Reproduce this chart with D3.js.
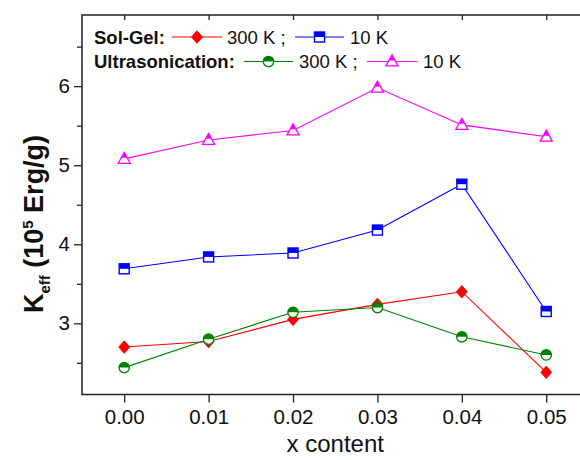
<!DOCTYPE html>
<html>
<head>
<meta charset="utf-8">
<script src="https://cdn.jsdelivr.net/npm/d3@7/dist/d3.min.js"></script>
<style>
  html, body { margin: 0; padding: 0; background: #fff; }
  svg { display: block; font-family: Arial, "Liberation Sans", sans-serif; }
</style>
</head>
<body>
<svg id="chart" width="580" height="460"></svg>
<script>
// x content of the samples
const xContent = [0.00, 0.01, 0.02, 0.03, 0.04, 0.05];
// K_eff (10^5 Erg/g)
const solGel300 = [2.70, 2.77, 3.05, 3.24, 3.40, 2.38];
const solGel10  = [3.69, 3.84, 3.89, 4.18, 4.76, 3.15];
const ultra300  = [2.44, 2.80, 3.14, 3.20, 2.83, 2.60];
const ultra10   = [5.08, 5.32, 5.44, 5.98, 5.51, 5.36];

const xTicks = [0.00, 0.01, 0.02, 0.03, 0.04, 0.05];
const yTicks = [3, 4, 5, 6];
const yMinor = [2.5, 3.5, 4.5, 5.5, 6.5];

const svg = d3.select("#chart");
const plotLeft = 82, plotRight = 580, plotTop = 15, plotBottom = 394.5;

const x = d3.scaleLinear().domain([-0.005, 0.054]).range([plotLeft, plotRight]);
const y = d3.scaleLinear().domain([2.1, 6.9]).range([plotBottom, plotTop]);

const axisColor = "#222";
const tickFont = "20.5px";

// bottom axis
const gx = svg.append("g").attr("transform", `translate(0,${plotBottom})`)
  .call(d3.axisBottom(x).tickValues(xTicks).tickFormat(d3.format(".2f")).tickSize(8).tickPadding(7));
// left axis
const gy = svg.append("g").attr("transform", `translate(${plotLeft},0)`)
  .call(d3.axisLeft(y).tickValues(yTicks).tickFormat(d3.format("d")).tickSize(8).tickPadding(4));
// left minor ticks
svg.append("g").attr("transform", `translate(${plotLeft},0)`)
  .call(d3.axisLeft(y).tickValues(yMinor).tickFormat("").tickSize(5))
  .call(g => g.select(".domain").remove());
// top mirrored ticks (inward)
svg.append("g").attr("transform", `translate(0,${plotTop})`)
  .call(d3.axisTop(x).tickValues(xTicks).tickFormat("").tickSize(-5))
  .call(g => g.select(".domain").remove());

[gx, gy].forEach(g => {
  g.select(".domain").remove();
  g.selectAll("text").style("font-size", tickFont).attr("fill", "#111");
});
svg.selectAll(".tick line").attr("stroke", axisColor).attr("stroke-width", 1.3);

// frame
svg.append("rect")
  .attr("x", plotLeft).attr("y", plotTop)
  .attr("width", plotRight + 2 - plotLeft).attr("height", plotBottom - plotTop)
  .attr("fill", "none").attr("stroke", axisColor).attr("stroke-width", 1.5);

// axis titles
svg.append("text")
  .attr("x", (x(0.0) + x(0.05)) / 2).attr("y", 452)
  .attr("text-anchor", "middle")
  .style("font-size", "24px").attr("fill", "#111")
  .text("x content");

const yl = svg.append("text")
  .attr("transform", "translate(43,224) rotate(-90)")
  .attr("text-anchor", "middle")
  .style("font-size", "27px").style("font-weight", "bold").attr("fill", "#111");
yl.append("tspan").text("K");
yl.append("tspan").attr("dy", 7).style("font-size", "15px").text("eff");
yl.append("tspan").attr("dy", -7).text(" (10");
yl.append("tspan").attr("dy", -10).style("font-size", "15px").text("5");
yl.append("tspan").attr("dy", 10).text(" Erg/g)");

// marker drawing
function marker(g, type, color, cx, cy) {
  if (type === "diamond") {
    g.append("path")
      .attr("d", `M${cx},${cy - 6.2}L${cx + 5.4},${cy}L${cx},${cy + 6.2}L${cx - 5.4},${cy}Z`)
      .attr("fill", color).attr("stroke", color).attr("stroke-width", 1);
  } else if (type === "square") {
    const h = 5;
    g.append("rect").attr("x", cx - h).attr("y", cy - h).attr("width", 2 * h).attr("height", 2 * h)
      .attr("fill", "#fff");
    g.append("rect").attr("x", cx - h).attr("y", cy - h).attr("width", 2 * h).attr("height", h)
      .attr("fill", color);
    g.append("rect").attr("x", cx - h).attr("y", cy - h).attr("width", 2 * h).attr("height", 2 * h)
      .attr("fill", "none").attr("stroke", color).attr("stroke-width", 1.4);
  } else if (type === "circle") {
    const r = 5.2;
    g.append("circle").attr("cx", cx).attr("cy", cy).attr("r", r).attr("fill", "#fff");
    g.append("path")
      .attr("d", `M${cx - r},${cy}A${r},${r} 0 0 1 ${cx + r},${cy}Z`)
      .attr("fill", color);
    g.append("circle").attr("cx", cx).attr("cy", cy).attr("r", r)
      .attr("fill", "none").attr("stroke", color).attr("stroke-width", 1.3);
  } else if (type === "triangle") {
    const w = 6, ht = 11;
    const ty = cy - ht * 0.6, by = cy + ht * 0.4;
    const my = (ty + by) / 2;
    g.append("path").attr("d", `M${cx},${ty}L${cx + w},${by}L${cx - w},${by}Z`).attr("fill", "#fff");
    g.append("path").attr("d", `M${cx},${ty}L${cx + w / 2},${my}L${cx - w / 2},${my}Z`).attr("fill", color);
    g.append("path").attr("d", `M${cx},${ty}L${cx + w},${by}L${cx - w},${by}Z`)
      .attr("fill", "none").attr("stroke", color).attr("stroke-width", 1.3).attr("stroke-linejoin", "miter");
  }
}

const series = [
  { values: solGel300, color: "#ff0000", type: "diamond" },
  { values: solGel10,  color: "#0000ff", type: "square" },
  { values: ultra300,  color: "#008000", type: "circle" },
  { values: ultra10,   color: "#ff00ff", type: "triangle" }
];

const line = d3.line().x(d => x(d[0])).y(d => y(d[1]));

series.forEach(s => {
  const pts = xContent.map((xv, i) => [xv, s.values[i]]);
  const g = svg.append("g");
  g.append("path").datum(pts).attr("d", line)
    .attr("fill", "none").attr("stroke", s.color).attr("stroke-width", 1.1);
  pts.forEach(p => marker(g, s.type, s.color, x(p[0]), y(p[1])));
});

// legend
const leg = svg.append("g").style("font-size", "18.5px").attr("fill", "#111");
function legendItem(x0, x1, cy, s) {
  leg.append("line").attr("x1", x0).attr("x2", x1).attr("y1", cy).attr("y2", cy)
    .attr("stroke", s.color).attr("stroke-width", 1.1);
  marker(leg, s.type, s.color, (x0 + x1) / 2, cy);
}
leg.append("text").attr("x", 94).attr("y", 44).style("font-weight", "bold").text("Sol-Gel:");
legendItem(172, 222, 37, series[0]);
leg.append("text").attr("x", 227).attr("y", 44).text("300 K ;");
legendItem(295, 344, 37, series[1]);
leg.append("text").attr("x", 350).attr("y", 44).text("10 K");

leg.append("text").attr("x", 94).attr("y", 68).style("font-weight", "bold").text("Ultrasonication:");
legendItem(244, 293, 61.5, series[2]);
leg.append("text").attr("x", 299).attr("y", 68).text("300 K ;");
legendItem(367, 417, 61.5, series[3]);
leg.append("text").attr("x", 423).attr("y", 68).text("10 K");
</script>
</body>
</html>
